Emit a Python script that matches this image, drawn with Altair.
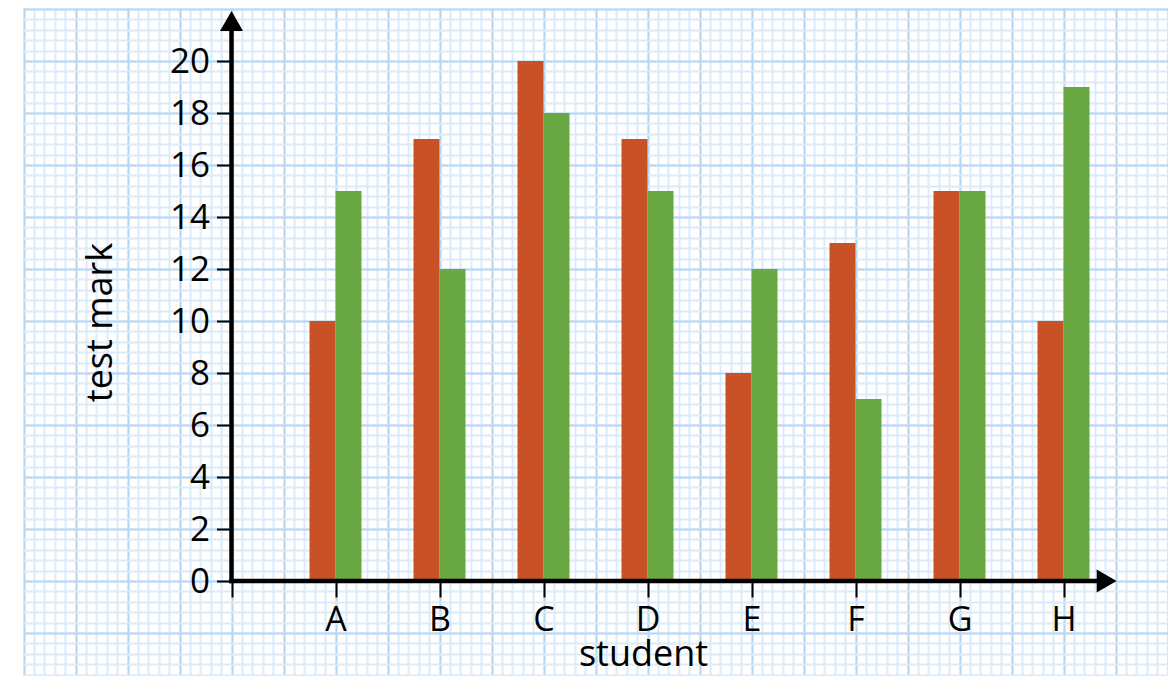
import altair as alt
import numpy as np
import pandas as pd

# ---- data ----
students = ["A", "B", "C", "D", "E", "F", "G", "H"]
first_marks = [10, 17, 20, 17, 8, 13, 15, 10]
second_marks = [15, 12, 18, 15, 12, 7, 15, 19]
series_names = ["first", "second"]
y_tick_values = list(range(0, 21, 2))
x_title = "student"
y_title = "test mark"

# ---- styles ----
ORANGE = "#C95126"
GREEN = "#6AA843"
MAJOR = "#B8D7F1"
MINOR = "#DCEBF9"
FONT = "Open Sans"

rows = []
for i, s in enumerate(students):
    rows.append({"student": s, "idx": i + 1, "series": series_names[0], "value": first_marks[i]})
    rows.append({"student": s, "idx": i + 1, "series": series_names[1], "value": second_marks[i]})
df = pd.DataFrame(rows)
one = pd.DataFrame({"k": [0]})

# ---- layout ----
W, H = 1145, 668
X0, UX = 208.5, 104.0   # pixel of x = 0, pixels per student
Y0, UY = 573.0, 26.0    # pixel of mark 0, pixels per mark
xscale = alt.Scale(domain=[-X0 / UX, (W - X0) / UX], nice=False, zero=False)
yscale = alt.Scale(domain=[(Y0 - H) / UY, Y0 / UY], nice=False, zero=False)

minor_x = np.round(np.arange(-2, 9.0001, 0.1), 3).tolist()
major_x = np.round(np.arange(-2, 9.0001, 0.5), 3).tolist()
minor_y = np.round(np.arange(-3.6, 22.0001, 0.4), 3).tolist()
major_y = np.round(np.arange(-2, 22.0001, 2), 3).tolist()


def grid_layer(xvals, yvals, color):
    common = dict(grid=True, gridColor=color, gridWidth=2, gridOpacity=1,
                  labels=False, ticks=False, domain=False, title=None, zindex=0)
    return alt.Chart(df).mark_point(opacity=0).encode(
        x=alt.X("idx:Q", scale=xscale, axis=alt.Axis(values=xvals, orient="bottom", **common)),
        y=alt.Y("value:Q", scale=yscale, axis=alt.Axis(values=yvals, orient="left", **common)),
    )


label_expr = "[" + ",".join(["''"] + ["'%s'" % s for s in students]) + "][datum.value]"

x_axis = alt.Axis(
    values=list(range(0, len(students) + 1)), labelExpr=label_expr, orient="bottom",
    offset=-(H - Y0), tickSize=16, tickWidth=2, tickColor="black", domain=False, grid=False,
    labelFont=FONT, labelFontSize=34, labelColor="black", labelPadding=6,
    labelOverlap=False, labelFlush=False,
    title=x_title, titleFont=FONT, titleFontSize=36, titleFontWeight="normal",
    titleColor="black", titleX=620, titleY=84, titleBaseline="alphabetic", titleAlign="center",
    zindex=1,
)
y_axis = alt.Axis(
    values=y_tick_values, orient="left", offset=-X0, tickSize=15, tickWidth=2,
    tickColor="black", domain=False, grid=False,
    labelFont=FONT, labelFontSize=35, labelColor="black", labelPadding=7, labelOverlap=False,
    title=y_title, titleFont=FONT, titleFontSize=36, titleFontWeight="normal",
    titleColor="black", titleX=-120, titleY=314, titleAngle=270,
    titleBaseline="alphabetic", titleAlign="center",
    zindex=1,
)

bars = alt.Chart(df).transform_calculate(
    x0="datum.idx + (datum.series == '%s' ? -0.25 : 0)" % series_names[0]
).transform_calculate(
    x1="datum.x0 + 0.25"
).mark_bar().encode(
    x=alt.X("x0:Q", scale=xscale, axis=x_axis),
    x2="x1:Q",
    y=alt.Y("value:Q", scale=yscale, axis=y_axis),
    y2=alt.datum(0),
    color=alt.Color("series:N", scale=alt.Scale(domain=series_names, range=[ORANGE, GREEN]), legend=None),
)

y_line = alt.Chart(one).mark_rule(color="black", strokeWidth=4.5).encode(
    x=alt.XDatum(0, type="quantitative", scale=xscale, axis=None),
    y=alt.YDatum(-0.09, type="quantitative", scale=yscale, axis=None),
    y2=alt.Y2Datum(21.2),
)
x_line = alt.Chart(one).mark_rule(color="black", strokeWidth=4.5).encode(
    y=alt.YDatum(0, type="quantitative", scale=yscale, axis=None),
    x=alt.XDatum(-0.022, type="quantitative", scale=xscale, axis=None),
    x2=alt.X2Datum(8.33),
)
y_arrow = alt.Chart(one).mark_point(shape="triangle-up", filled=True, size=529, color="black", opacity=1).encode(
    x=alt.XDatum(0, type="quantitative", scale=xscale, axis=None),
    y=alt.YDatum(21.54, type="quantitative", scale=yscale, axis=None),
)
x_arrow = alt.Chart(one).mark_point(shape="triangle-right", filled=True, size=529, color="black", opacity=1).encode(
    x=alt.XDatum(8.415, type="quantitative", scale=xscale, axis=None),
    y=alt.YDatum(0, type="quantitative", scale=yscale, axis=None),
)

chart = alt.layer(
    grid_layer(minor_x, minor_y, MINOR),
    grid_layer(major_x, major_y, MAJOR),
    bars, y_line, x_line, y_arrow, x_arrow,
).resolve_axis(
    x="independent", y="independent"
).properties(
    width=W, height=H,
    padding={"left": 15, "top": 0, "right": 0, "bottom": 0},
    autosize=alt.AutoSizeParams(type="none"),
    background="white",
).configure_view(stroke=None)

chart.save("out.html", embed_options={"renderer": "svg", "actions": False})
